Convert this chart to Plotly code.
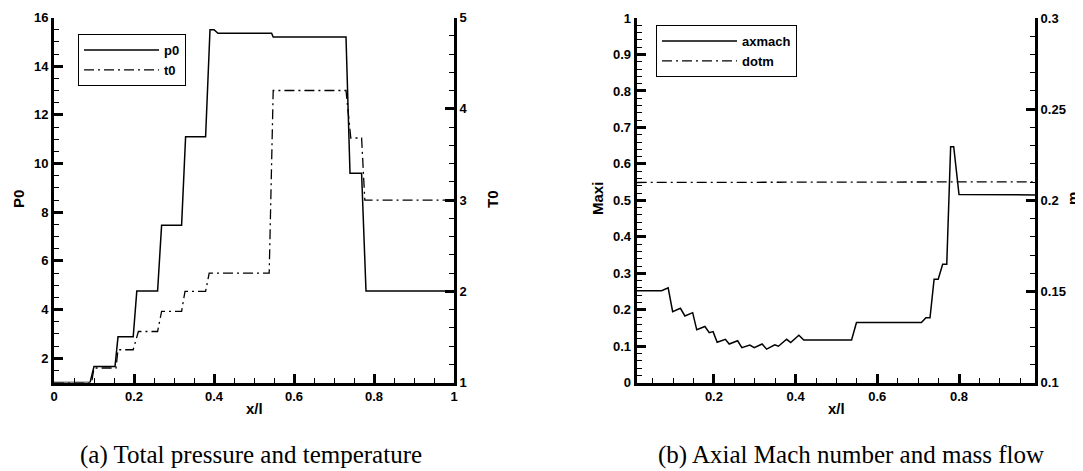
import plotly.graph_objects as go

# ---------------- data ----------------
# (a) total pressure / temperature
p0_x = [0.0, 0.09, 0.10, 0.1525, 0.16, 0.198, 0.207, 0.259, 0.269, 0.319, 0.329, 0.379,
        0.39, 0.40, 0.41, 0.544, 0.548, 0.73, 0.74, 0.769, 0.78, 1.0]
p0_y = [1.0, 1.0, 1.66, 1.66, 2.88, 2.88, 4.76, 4.76, 7.46, 7.46, 11.1, 11.1,
        15.5, 15.5, 15.35, 15.35, 15.2, 15.2, 9.6, 9.6, 4.76, 4.76]

t0_x = [0.0, 0.094, 0.10, 0.155, 0.16, 0.198, 0.211, 0.259, 0.269, 0.319, 0.3275, 0.379,
        0.388, 0.538, 0.548, 0.73, 0.742, 0.769, 0.777, 1.0]
t0_y = [1.0, 1.0, 1.16, 1.16, 1.36, 1.36, 1.56, 1.56, 1.78, 1.78, 2.0, 2.0,
        2.2, 2.2, 4.2, 4.2, 3.68, 3.68, 3.0, 3.0]

# (b) axial Mach number / mass flow
ax_x = [0.011, 0.072, 0.088, 0.099, 0.118, 0.129, 0.148, 0.158, 0.178, 0.1886, 0.198, 0.208,
        0.228, 0.2375, 0.258, 0.2685, 0.288, 0.2987, 0.318, 0.329, 0.349, 0.358, 0.378, 0.388,
        0.408, 0.42, 0.537, 0.549, 0.708, 0.719, 0.729, 0.739, 0.749, 0.76, 0.77, 0.7795,
        0.787, 0.80, 0.986]
ax_y = [0.252, 0.252, 0.26, 0.195, 0.204, 0.183, 0.192, 0.145, 0.154, 0.137, 0.14, 0.111,
        0.119, 0.106, 0.115, 0.096, 0.103, 0.096, 0.106, 0.092, 0.104, 0.1, 0.119, 0.11,
        0.13, 0.117, 0.117, 0.165, 0.165, 0.178, 0.178, 0.284, 0.284, 0.325, 0.325, 0.647,
        0.647, 0.516, 0.515]

dm_x = [0.011, 0.2, 0.38, 0.40, 0.42, 0.6, 0.8, 0.986]
dm_y = [0.2098, 0.2099, 0.2100, 0.2103, 0.2100, 0.2100, 0.2101, 0.2101]

# ---------------- figure ----------------
# the page body has an 8px default margin, so the figure is 8px smaller
OFF = 8
W, H = 1083 - OFF, 471 - OFF


def PX(px):
    return (px - OFF) / W


def PY(py):
    return 1 - (py - OFF) / H


BLACK = "black"
SANS = "Liberation Sans, Arial, sans-serif"
SERIF = "Liberation Serif, Times New Roman, serif"
DASHDOT = "10px,4px,2px,4px"

fig = go.Figure()
fig.add_trace(go.Scatter(x=p0_x, y=p0_y, mode="lines", name="p0",
                         line=dict(color=BLACK, width=1.5), xaxis="x", yaxis="y",
                         legend="legend"))
fig.add_trace(go.Scatter(x=t0_x, y=t0_y, mode="lines", name="t0",
                         line=dict(color=BLACK, width=1.3, dash=DASHDOT), xaxis="x", yaxis="y2",
                         legend="legend"))
fig.add_trace(go.Scatter(x=ax_x, y=ax_y, mode="lines", name="axmach",
                         line=dict(color=BLACK, width=1.5), xaxis="x2", yaxis="y3",
                         legend="legend2"))
fig.add_trace(go.Scatter(x=dm_x, y=dm_y, mode="lines", name="dotm",
                         line=dict(color=BLACK, width=1.3, dash=DASHDOT), xaxis="x2", yaxis="y4",
                         legend="legend2"))

tickfont = dict(family=SANS, size=13, color=BLACK, weight="bold")


def ax(**kw):
    d = dict(showline=True, linecolor=BLACK, linewidth=3, mirror=False,
             ticks="inside", ticklen=9, tickwidth=3, tickcolor=BLACK, automargin=False,
             showgrid=False, zeroline=False, tickfont=tickfont, fixedrange=True)
    d.update(kw)
    return d


def minor(dt):
    return dict(dtick=dt, ticks="inside", ticklen=5, tickwidth=1, tickcolor=BLACK, showgrid=False)


xd1 = [PX(54), PX(454)]
yd1 = [PY(382.6), PY(17.5)]
xd2 = [PX(636.7), PX(1035)]
yd2 = [PY(382.7), PY(18)]

legfont = dict(family=SANS, size=13, color=BLACK, weight="bold")

fig.update_layout(
    width=W, height=H,
    margin=dict(l=0, r=0, t=0, b=0, autoexpand=False),
    paper_bgcolor="white", plot_bgcolor="white",
    xaxis=ax(domain=xd1, range=[0, 1], anchor="y", tick0=0, dtick=0.2, minor=minor(0.05)),
    yaxis=ax(domain=yd1, range=[1, 16], anchor="x", tick0=0, dtick=2, minor=minor(0.5)),
    yaxis2=ax(domain=yd1, range=[1, 5], anchor="x", overlaying="y", side="right",
              tick0=0, dtick=1, minor=minor(0.2)),
    xaxis2=ax(domain=xd2, range=[0.011, 0.986], anchor="y3", tick0=0, dtick=0.2, minor=minor(0.05)),
    yaxis3=ax(domain=yd2, range=[0, 1], anchor="x2", tick0=0, dtick=0.1, minor=minor(0.02)),
    yaxis4=ax(domain=yd2, range=[0.1, 0.3], anchor="x2", overlaying="y3", side="right",
              tick0=0, dtick=0.05, minor=minor(0.01)),
    legend=dict(x=PX(78), y=PY(34), xanchor="left", yanchor="top",
                bordercolor=BLACK, borderwidth=1, bgcolor="white",
                font=legfont, itemwidth=75),
    legend2=dict(x=PX(656), y=PY(25), xanchor="left", yanchor="top",
                 bordercolor=BLACK, borderwidth=1, bgcolor="white",
                 font=legfont, itemwidth=75),
    showlegend=True,
)

titlefont = dict(family=SANS, size=15, color=BLACK, weight="bold")
labels = [
    ("P0", 18, 199, -90),
    ("T0", 492, 199, -90),
    ("x/l", 254, 408, 0),
    ("Maxi", 597, 199, -90),
    ("m", 1072, 199, -90),
    ("x/l", 836, 408, 0),
]
for txt, px, py, ang in labels:
    fig.add_annotation(text=txt, x=PX(px), y=PY(py), xref="paper", yref="paper",
                       xanchor="center", yanchor="middle", showarrow=False,
                       textangle=ang, font=titlefont)

capfont = dict(family=SERIF, size=25, color=BLACK)
for txt, px in [("(a) Total pressure and temperature", 251),
                ("(b) Axial Mach number and mass flow", 851)]:
    fig.add_annotation(text=txt, x=PX(px), y=PY(455), xref="paper", yref="paper",
                       xanchor="center", yanchor="middle", showarrow=False, font=capfont)

fig.write_html("out.html")
